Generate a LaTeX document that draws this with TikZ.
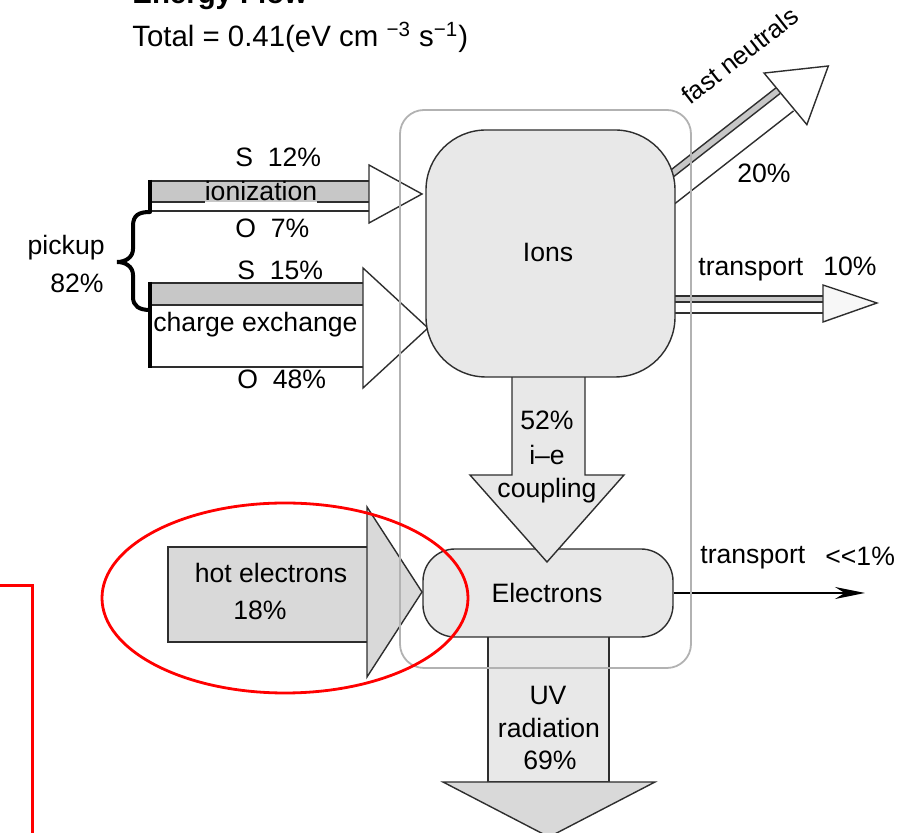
\documentclass[tikz,border=0pt]{standalone}
\usepackage{fontspec}
\setmainfont{Liberation Sans}
\usetikzlibrary{arrows.meta}
\definecolor{bandgray}{gray}{0.78}
\definecolor{boxgray}{gray}{0.91}
\definecolor{hotgray}{gray}{0.85}
\definecolor{edge}{gray}{0.18}
\begin{document}
\begin{tikzpicture}[x=0.5pt,y=-0.5pt,
  lbl/.style={font=\fontsize{13.3}{16}\selectfont, inner sep=0pt, anchor=base},
  ttl/.style={font=\fontsize{14.7}{17}\selectfont, inner sep=0pt, anchor=base west},
  outl/.style={draw=edge, line width=0.7pt, line join=miter},
  thickedge/.style={draw=black, line width=1.6pt},
  roundbox/.style={draw=edge, line width=0.7pt, fill=boxgray, font=\fontsize{13.3}{16}\selectfont, inner sep=0pt},
  sysbox/.style={draw=gray!60, line width=0.9pt, rounded corners=12pt, inner sep=0pt},
  redmark/.style={draw=red, line width=1.4pt}
]
\useasboundingbox (0,0) rectangle (912,833);

% title
\node[ttl, font=\bfseries\fontsize{14.7}{17}\selectfont] (etitle) at (132,4) {Energy Flow};
\node[ttl] (total) at (132,47) {Total = 0.41(eV cm \textsuperscript{−3} s\textsuperscript{−1})};

% pickup brace
\draw[line width=2pt, line cap=round] (150,212) .. controls (139,212) and (133,215) .. (133,226) -- (133,249)
  .. controls (133,257) and (126,262) .. (117,262)
  .. controls (126,262) and (133,267) .. (133,275) -- (133,297)
  .. controls (133,306) and (139,310) .. (150,310);
\node[lbl, anchor=base east] (pickup) at (105,255) {pickup};
\node[lbl, anchor=base east] (pick82) at (104,293) {82\%};

% ionization arrow
\fill[bandgray] (150,181) rectangle (369,202);
\fill[white] (150,202) rectangle (369,211);
\draw[outl] (150,181) -- (369,181);
\draw[outl] (150,202) -- (205,202);
\draw[outl] (317,202) -- (369,202);
\draw[outl] (150,211) -- (369,211);
\draw[outl, fill=white] (369,165) -- (422,194) -- (369,223) -- cycle;
\draw[thickedge] (150,180) -- (150,212);
\node[lbl] (ioniz) at (261,201) {ionization};

% charge exchange arrow
\fill[bandgray] (150,283) rectangle (363,305);
\draw[outl] (150,283) -- (363,283);
\draw[outl] (150,305) -- (363,305);
\draw[outl] (150,367) -- (363,367);
\draw[outl, fill=white] (363,268) -- (428,328) -- (363,388) -- cycle;
\draw[thickedge] (150,282) -- (150,368);
\node[lbl, anchor=base west] (chex) at (153,332) {charge exchange};

\node[lbl, anchor=base west] (s12) at (235,167) {S\ \ 12\%};
\node[lbl, anchor=base west] (o7) at (235,238) {O\ \ 7\%};
\node[lbl, anchor=base west] (s15) at (237,280) {S\ \ 15\%};
\node[lbl, anchor=base west] (o48) at (237,389) {O\ \ 48\%};

% fast neutrals arrow
\begin{scope}[shift={(667,173)}, rotate=38]
  \fill[white] (-30,0) rectangle (138,29);
  \fill[bandgray] (-30,0) rectangle (138,7);
  \draw[outl] (-30,0) -- (138,0);
  \draw[outl] (-30,7) -- (138,7);
  \draw[outl] (-30,29) -- (138,29);
  \draw[outl, fill=white] (138,-19) -- (193,15) -- (140,48) -- cycle;
\end{scope}
\node[lbl, anchor=base west, rotate=38, font=\fontsize{12.8}{15}\selectfont] (fastn) at (690,106) {fast neutrals};
\node[lbl] (p20) at (764,183) {20\%};

% transport 10% arrow
\fill[white] (655,296) rectangle (823,313);
\fill[bandgray] (655,296) rectangle (823,302);
\draw[outl] (655,296) -- (823,296);
\draw[outl] (655,302) -- (823,302);
\draw[outl] (655,313) -- (823,313);
\draw[outl, fill=white!97!black] (823,285) -- (877,303) -- (823,322) -- cycle;
\node[lbl, anchor=base west] (tr10) at (698,276) {transport};
\node[lbl, anchor=base west] (p10) at (823,276) {10\%};

% UV radiation arrow
\draw[outl, fill=boxgray] (488,620) -- (488,782) -- (609,782) -- (609,620);
\draw[outl, fill=hotgray] (443,782) -- (549,837) -- (655,782) -- cycle;
\node[lbl] (uv) at (548,705) {UV};
\node[lbl] (rad) at (549,738) {radiation};
\node[lbl] (p69) at (550,770) {69\%};

% Electrons
\node[roundbox, minimum width=125pt, minimum height=44pt, rounded corners=16pt] (elec) at (548,593) {};
\node[lbl] (electxt) at (547,603) {Electrons};

% i-e coupling arrow
\draw[outl, fill=boxgray] (512,365) -- (512,475) -- (470,475) -- (547,562) -- (624,475) -- (585,475) -- (585,365);
\node[lbl] (p52) at (547,430) {52\%};
\node[lbl] (ie) at (547,465) {i–e};
\node[lbl] (coup) at (547,498) {coupling};

% Ions
\node[roundbox, minimum width=124.5pt, minimum height=123.5pt, rounded corners=30pt] (ions) at (550.5,253.5) {};
\node[lbl] (ionstxt) at (548,262) {Ions};

% hot electrons arrow
\draw[outl, fill=hotgray] (367,547) -- (168,547) -- (168,642) -- (367,642);
\draw[outl, fill=hotgray] (367,507) -- (422,592) -- (367,677) -- cycle;
\node[lbl] (hot) at (271,583) {hot electrons};
\node[lbl] (p18) at (260,620) {18\%};

% transport <<1%
\coordinate (tend) at (865,591);
\draw[line width=0.7pt, -{Stealth[length=15pt, width=6pt]}] (elec.east) -- (tend |- elec.east);
\node[lbl, anchor=base west] (tr1) at (700,564) {transport};
\node[lbl, anchor=base west] (p1) at (825,566) {\mbox{<}\mbox{<}1\%};

% system box
\node[sysbox, minimum width=145.5pt, minimum height=279pt] (system) at (545.5,389) {};

% red annotations
\draw[redmark] (285,598) ellipse [x radius=183, y radius=95];
\draw[redmark, line width=1.5pt] (0,586) -- (32,586) -- (32,833);
\end{tikzpicture}
\end{document}
